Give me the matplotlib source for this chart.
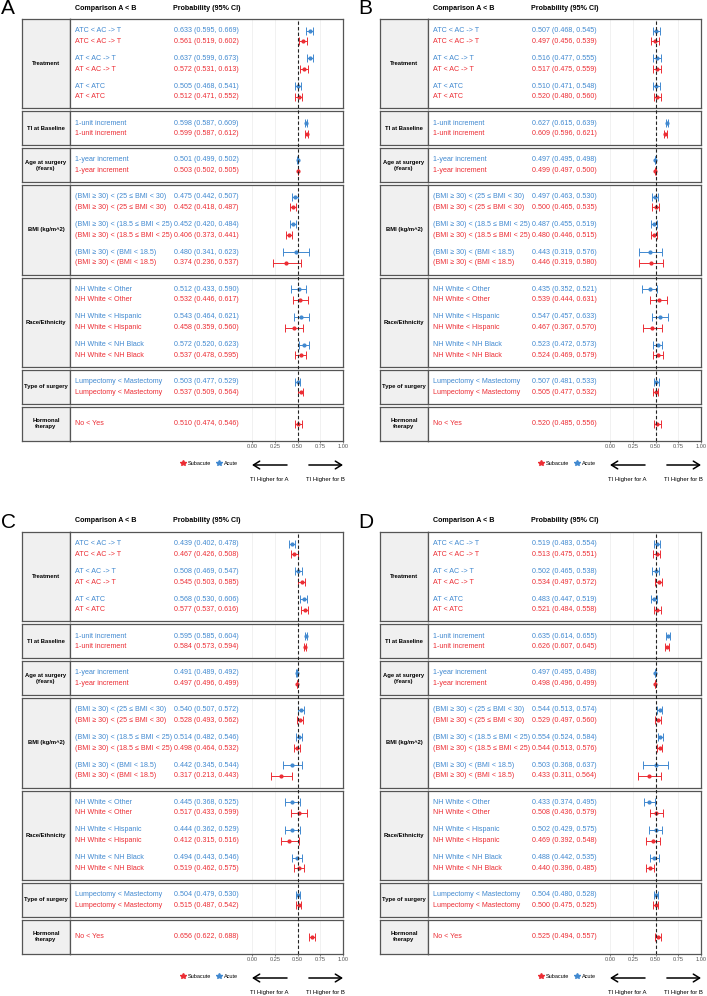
import numpy as np
import matplotlib
matplotlib.use("Agg")
import matplotlib.pyplot as plt
from matplotlib.lines import Line2D
from matplotlib.transforms import blended_transform_factory

plt.rcParams['font.family'] = ['Liberation Sans', 'DejaVu Sans']

# ---- data -------------------------------------------------------------
groups = ['Treatment', 'TI at Baseline', 'Age at surgery\n(Years)', 'BMI (kg/m^2)',
          'Race/Ethnicity', 'Type of surgery', 'Hormonal\ntherapy']
comparisons = [
    ['ATC < AC -> T', 'AT < AC -> T', 'AT < ATC'],
    ['1-unit increment'],
    ['1-year increment'],
    ['(BMI \u2265 30) < (25 \u2264 BMI < 30)', '(BMI \u2265 30) < (18.5 \u2264 BMI < 25)',
     '(BMI \u2265 30) < (BMI < 18.5)'],
    ['NH White < Other', 'NH White < Hispanic', 'NH White < NH Black'],
    ['Lumpectomy < Mastectomy'],
    ['No < Yes'],
]
# the last comparison (hormonal therapy) has no acute estimate

a_acute_est = [0.633, 0.637, 0.505, 0.598, 0.501, 0.475, 0.452, 0.480, 0.512, 0.543, 0.572, 0.503]
a_acute_lo = [0.595, 0.599, 0.468, 0.587, 0.499, 0.442, 0.420, 0.341, 0.433, 0.464, 0.520, 0.477]
a_acute_hi = [0.669, 0.673, 0.541, 0.609, 0.502, 0.507, 0.484, 0.623, 0.590, 0.621, 0.623, 0.529]
a_sub_est = [0.561, 0.572, 0.512, 0.599, 0.503, 0.452, 0.406, 0.374, 0.532, 0.458, 0.537, 0.537, 0.510]
a_sub_lo = [0.519, 0.531, 0.471, 0.587, 0.502, 0.418, 0.373, 0.236, 0.446, 0.359, 0.478, 0.509, 0.474]
a_sub_hi = [0.602, 0.613, 0.552, 0.612, 0.505, 0.487, 0.441, 0.537, 0.617, 0.560, 0.595, 0.564, 0.546]

b_acute_est = [0.507, 0.516, 0.510, 0.627, 0.497, 0.497, 0.487, 0.443, 0.435, 0.547, 0.523, 0.507]
b_acute_lo = [0.468, 0.477, 0.471, 0.615, 0.495, 0.463, 0.455, 0.319, 0.352, 0.457, 0.472, 0.481]
b_acute_hi = [0.545, 0.555, 0.548, 0.639, 0.498, 0.530, 0.519, 0.576, 0.521, 0.633, 0.573, 0.533]
b_sub_est = [0.497, 0.517, 0.520, 0.609, 0.499, 0.500, 0.480, 0.446, 0.539, 0.467, 0.524, 0.505, 0.520]
b_sub_lo = [0.456, 0.475, 0.480, 0.596, 0.497, 0.465, 0.446, 0.319, 0.444, 0.367, 0.469, 0.477, 0.485]
b_sub_hi = [0.539, 0.559, 0.560, 0.621, 0.500, 0.535, 0.515, 0.580, 0.631, 0.570, 0.579, 0.532, 0.556]

c_acute_est = [0.439, 0.508, 0.568, 0.595, 0.491, 0.540, 0.514, 0.442, 0.445, 0.444, 0.494, 0.504]
c_acute_lo = [0.402, 0.469, 0.530, 0.585, 0.489, 0.507, 0.482, 0.345, 0.368, 0.362, 0.443, 0.479]
c_acute_hi = [0.478, 0.547, 0.606, 0.604, 0.492, 0.572, 0.546, 0.544, 0.525, 0.529, 0.546, 0.530]
c_sub_est = [0.467, 0.545, 0.577, 0.584, 0.497, 0.528, 0.498, 0.317, 0.517, 0.412, 0.519, 0.515, 0.656]
c_sub_lo = [0.426, 0.503, 0.537, 0.573, 0.496, 0.493, 0.464, 0.213, 0.433, 0.315, 0.462, 0.487, 0.622]
c_sub_hi = [0.508, 0.585, 0.616, 0.594, 0.499, 0.562, 0.532, 0.443, 0.599, 0.516, 0.575, 0.542, 0.688]

d_acute_est = [0.519, 0.502, 0.483, 0.635, 0.497, 0.544, 0.554, 0.503, 0.433, 0.502, 0.488, 0.504]
d_acute_lo = [0.483, 0.465, 0.447, 0.614, 0.495, 0.513, 0.524, 0.368, 0.374, 0.429, 0.442, 0.480]
d_acute_hi = [0.554, 0.538, 0.519, 0.655, 0.498, 0.574, 0.584, 0.637, 0.495, 0.575, 0.535, 0.528]
d_sub_est = [0.513, 0.534, 0.521, 0.626, 0.498, 0.529, 0.544, 0.433, 0.508, 0.469, 0.440, 0.500, 0.525]
d_sub_lo = [0.475, 0.497, 0.484, 0.607, 0.496, 0.497, 0.513, 0.311, 0.436, 0.392, 0.396, 0.475, 0.494]
d_sub_hi = [0.551, 0.572, 0.558, 0.645, 0.499, 0.560, 0.576, 0.564, 0.579, 0.548, 0.485, 0.525, 0.557]

panels = [
    ('A', (a_acute_est, a_acute_lo, a_acute_hi), (a_sub_est, a_sub_lo, a_sub_hi)),
    ('B', (b_acute_est, b_acute_lo, b_acute_hi), (b_sub_est, b_sub_lo, b_sub_hi)),
    ('C', (c_acute_est, c_acute_lo, c_acute_hi), (c_sub_est, c_sub_lo, c_sub_hi)),
    ('D', (d_acute_est, d_acute_lo, d_acute_hi), (d_sub_est, d_sub_lo, d_sub_hi)),
]

xticks = [0.0, 0.25, 0.5, 0.75, 1.0]
xticklabels = ['0.00', '0.25', '0.50', '0.75', '1.00']

# ---- style / layout ----------------------------------------------------
BLUE = '#4189d0'
RED = '#ec2d34'
BORDER = '#555555'
STRIP_BG = '#f0f0f0'
ROW_FS = 5.1

W, H = 707, 996
fig = plt.figure(figsize=(7.07, 9.96), dpi=100)
offsets = [(0, 0), (358, 0), (0, 513), (358, 513)]

ROW_PX = 10.7
PAIR = 2.6
PAD = 1.08
GAP = 3


def px_axes(x0, y0, x1, y1, **kw):
    return fig.add_axes([x0 / W, 1 - y1 / H, (x1 - x0) / W, (y1 - y0) / H], **kw)


def style_box(ax):
    for s in ax.spines.values():
        s.set_color(BORDER)
        s.set_linewidth(0.9)


def draw_row(ax, y, comp, e, lo, hi, color):
    ax.errorbar(e, y, xerr=[[e - lo], [hi - e]], fmt='o', color=color,
                ms=2.0, elinewidth=0.7, capsize=2.7, capthick=0.7)
    ax.text(-1.95, y, comp, color=color, fontsize=ROW_FS, ha='left', va='center')
    ax.text(-0.86, y, f'{e:.3f} ({lo:.3f}, {hi:.3f})', color=color,
            fontsize=ROW_FS, ha='left', va='center')


for (letter, acute, sub), (ox, oy) in zip(panels, offsets):
    fig.text((ox + 0.5) / W, 1 - (oy + 9) / H, letter, fontsize=15, ha='left', va='center')
    fig.text((ox + 75) / W, 1 - (oy + 8) / H, 'Comparison A < B', fontsize=5.1,
             fontweight='bold', ha='left', va='center')
    fig.text((ox + 173) / W, 1 - (oy + 8) / H, 'Probability (95% CI)', fontsize=5.1,
             fontweight='bold', ha='left', va='center')

    y = 19
    idx = 0
    n_groups = len(groups)
    for g, (gname, comps) in enumerate(zip(groups, comparisons)):
        n = len(comps)
        span = (n - 1) * PAIR + 1 + 2 * PAD
        h = span * ROW_PX

        sax = px_axes(ox + 22, oy + y, ox + 70, oy + y + h, facecolor=STRIP_BG)
        sax.set_xticks([])
        sax.set_yticks([])
        style_box(sax)
        sax.text(0.5, 0.5, gname, transform=sax.transAxes, ha='center', va='center',
                 fontsize=4.2, fontweight='bold', linespacing=1.3)

        ax = px_axes(ox + 70, oy + y, ox + 343, oy + y + h)
        ax.set_xlim(-2, 1)
        ax.set_ylim(span - PAD, -PAD)
        ax.set_xticks(xticks)
        ax.set_yticks([])
        ax.grid(axis='x', color='#ebebeb', lw=0.5)
        ax.set_axisbelow(True)
        style_box(ax)
        if g == n_groups - 1:
            ax.set_xticklabels(xticklabels)
            ax.tick_params(axis='x', labelsize=4.1, colors='#555555', length=1.5,
                           width=0.5, pad=0.8)
        else:
            ax.tick_params(axis='x', length=0, labelbottom=False)

        for k, comp in enumerate(comps):
            if idx < len(acute[0]):
                draw_row(ax, k * PAIR, comp, acute[0][idx], acute[1][idx], acute[2][idx], BLUE)
                ys = k * PAIR + 1
            else:
                ys = 0.5
            draw_row(ax, ys, comp, sub[0][idx], sub[1][idx], sub[2][idx], RED)
            idx += 1

        y += h + (GAP if g < n_groups - 1 else 0)

    # overlay for the reference line, legend and arrows
    ov = px_axes(ox + 70, oy + 19, ox + 343, oy + y, facecolor='none', zorder=5)
    ov.set_xlim(-2, 1)
    ov.set_ylim(0, 1)
    ov.axis('off')
    ov.axvline(0.5, color='#222222', lw=0.8, ls=(0, (3, 2)))

    trans = blended_transform_factory(ov.transData, fig.transFigure)
    ya = 1 - (oy + 465) / H
    arrow = dict(arrowstyle='->,head_length=0.45,head_width=0.28', lw=1.1,
                 color='black', shrinkA=0, shrinkB=0)
    ov.annotate('', xy=(0.0, ya), xytext=(0.385, ya), xycoords=trans, textcoords=trans,
                arrowprops=arrow, annotation_clip=False)
    ov.annotate('', xy=(1.0, ya), xytext=(0.625, ya), xycoords=trans, textcoords=trans,
                arrowprops=arrow, annotation_clip=False)
    yt = 1 - (oy + 479) / H
    ov.text(0.19, yt, 'TI Higher for A', transform=trans, fontsize=4.3, ha='center', va='center')
    ov.text(0.81, yt, 'TI Higher for B', transform=trans, fontsize=4.3, ha='center', va='center')

    handles = [Line2D([], [], marker='*', ls='none', color=RED, ms=4, label='Subacute'),
               Line2D([], [], marker='*', ls='none', color=BLUE, ms=4, label='Acute')]
    fig.legend(handles=handles, loc='center', bbox_to_anchor=((ox + 209) / W, 1 - (oy + 463) / H),
               ncol=2, frameon=False, fontsize=4, handletextpad=0.3, columnspacing=1.0,
               handlelength=1.0, borderpad=0)

fig.savefig('out.png', dpi=100)
